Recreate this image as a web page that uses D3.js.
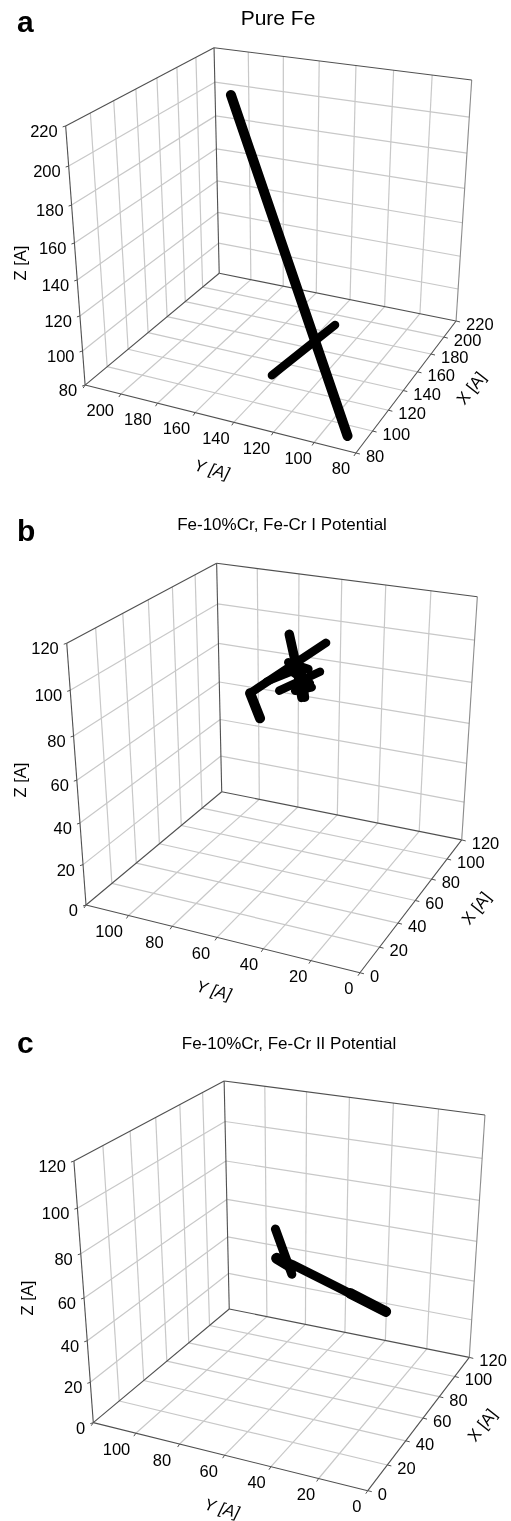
<!DOCTYPE html>
<html>
<head>
<meta charset="utf-8">
<script src="https://cdn.jsdelivr.net/npm/d3@7"></script>
<style>
body { margin: 0; background: #fff; }
svg { filter: blur(0.4px); }
text { font-family: "Liberation Sans", Arial, sans-serif; fill: #000; }
.grid { stroke: #c8c8c8; stroke-width: 1.2; }
.edge { stroke: #505050; stroke-width: 1.1; }
.edge.soft { stroke: #8c8c8c; }
.tick { stroke: #505050; stroke-width: 1; }
.track { fill: none; stroke: #000; stroke-linecap: round; stroke-linejoin: round; }
</style>
</head>
<body>
<div id="graph"></div>
<script>
var width = 511, height = 1521;

// panel a: pure Fe
var ticksA = [80, 100, 120, 140, 160, 180, 200, 220];
var yLabelsA = [80, 100, 120, 140, 160, 180, 200];
var tracksA = [
    [[190, 195.1, 205.1], [90, 88.1, 81]],
    [[125, 142, 81.2], [170, 128, 91.3]]
];
var widthsA = [10, 8.5];

// panel b: Fe-10%Cr, Fe-Cr I
var ticksB = [0, 20, 40, 60, 80, 100, 120];
var yLabelsB = [0, 20, 40, 60, 80, 100];
var tracksB = [
    [[70, 45.5, 108.4], [50, 69.3, 88.9]],
    [[50, 69.3, 88.9], [50, 65, 78.2]],
    [[60, 56.9, 113.7], [60, 51, 87.5]],
    [[65, 45.8, 97.1], [55, 58.9, 90]],
    [[60, 57.3, 101.2], [60, 48.6, 99.6]],
    [[60, 54.3, 88.9], [60, 47.1, 91.7]],
    [[60, 53.6, 98.6], [60, 51.5, 86.1]],
    [[60, 51.5, 99], [60, 50, 86.5]],
    [[60, 56.6, 97.8], [60, 47.9, 93.3]],
    [[60, 66.7, 91], [60, 53.6, 98.6]]
];
var widthsB = [8.5, 10, 9.5, 8.5, 8.5, 8.5, 8.5, 8.5, 8.5, 8];

// panel c: Fe-10%Cr, Fe-Cr II
var ticksC = [0, 20, 40, 60, 80, 100, 120];
var yLabelsC = [0, 20, 40, 60, 80, 100];
var tracksC = [
    [[60, 66.4, 77.3], [60, 59.1, 57.3]],
    [[60, 65.9, 63.6], [60, 58.4, 61.9], [60, 40.7, 55.9], [60, 17.7, 48]],
    [[60, 33.3, 53.5], [60, 17.7, 48]],
    [[60, 65.9, 63.6], [60, 59, 60.5]]
];
var widthsC = [9, 9, 10.5, 11];

// where the box corners sit on the page
var panels = [
    {letter: "a", title: "Pure Fe", titleSize: 21, titleX: 278, titleY: 25, letterY: 32,
     ticks: ticksA, yLabels: yLabelsA, tracks: tracksA, widths: widthsA, yDx: [-15, -6.5],
     A: [356, 453], FL: [85, 385], BR: [456, 321], B: [219.3, 273.3], TFL: [65.7, 126], TB: [214, 47.7], TBR: [471.7, 80],
     zTitle: [20, 263], yTitle: [212, 469], xTitle: [471, 388]},
    {letter: "b", title: "Fe-10%Cr, Fe-Cr I Potential", titleSize: 17, titleX: 282, titleY: 530, letterY: 541,
     ticks: ticksB, yLabels: yLabelsB, tracks: tracksB, widths: widthsB, yDx: [-11, -10],
     A: [360, 972.7], FL: [86, 905], BR: [461.7, 840], B: [221.7, 791.7], TFL: [66.7, 643.3], TB: [216.7, 563.3], TBR: [477.3, 596.7],
     zTitle: [20, 780], yTitle: [214, 990], xTitle: [476, 908]},
    {letter: "c", title: "Fe-10%Cr, Fe-Cr II Potential", titleSize: 17, titleX: 289, titleY: 1049, letterY: 1053,
     ticks: ticksC, yLabels: yLabelsC, tracks: tracksC, widths: widthsC, yDx: [-11, -10],
     A: [367.7, 1490.7], FL: [93.3, 1422.7], BR: [469.3, 1357.3], B: [229.3, 1309], TFL: [74, 1161], TB: [224, 1081], TBR: [485, 1115],
     zTitle: [27, 1298], yTitle: [222, 1508], xTitle: [482, 1425]}
];

var svg = d3.select("div#graph")
    .append("svg")
    .attr("width", width)
    .attr("height", height)
    .style("display", "block");

// least squares camera from the seven visible box corners
var fitCamera = function(f) {
    var pts = [[0, 0, 0, f.A], [0, 1, 0, f.FL], [1, 0, 0, f.BR], [1, 1, 0, f.B], [0, 1, 1, f.TFL], [1, 1, 1, f.TB], [1, 0, 1, f.TBR]];
    var rows = [], rhs = [];
    pts.forEach(function(p) {
        var sx = p[3][0] / 500, sy = p[3][1] / 500;
        rows.push([p[0], p[1], p[2], 1, 0, 0, 0, 0, -sx * p[0], -sx * p[1], -sx * p[2]]);
        rhs.push(sx);
        rows.push([0, 0, 0, 0, p[0], p[1], p[2], 1, -sy * p[0], -sy * p[1], -sy * p[2]]);
        rhs.push(sy);
    });
    var n = 11, M = [];
    for (var i = 0; i < n; i++) {
        M.push([]);
        for (var j = 0; j <= n; j++) {
            M[i].push(d3.sum(rows, function(r, k) { return r[i] * (j < n ? r[j] : rhs[k]); }));
        }
    }
    for (var c = 0; c < n; c++) {
        var best = c;
        for (var r = c + 1; r < n; r++) {
            if (Math.abs(M[r][c]) > Math.abs(M[best][c])) best = r;
        }
        var t = M[c]; M[c] = M[best]; M[best] = t;
        for (var r2 = 0; r2 < n; r2++) {
            if (r2 == c) continue;
            var m = M[r2][c] / M[c][c];
            for (var j2 = c; j2 <= n; j2++) M[r2][j2] -= m * M[c][j2];
        }
    }
    var P = M.map(function(row, i) { return row[n] / row[i]; });
    for (var q = 0; q < 8; q++) P[q] *= 500;
    return function(u, v, w) {
        var h = P[8] * u + P[9] * v + P[10] * w + 1;
        return [(P[0] * u + P[1] * v + P[2] * w + P[3]) / h, (P[4] * u + P[5] * v + P[6] * w + P[7]) / h];
    };
};

panels.forEach(function(p) {
    var g = svg.append("g");
    var project = fitCamera(p);
    var domain = d3.extent(p.ticks);
    var scale = d3.scaleLinear().domain(domain).range([0, 1]);

    var segment = function(a, b, cls) {
        var s = project(a[0], a[1], a[2]), e = project(b[0], b[1], b[2]);
        g.append("line").attr("class", cls)
            .attr("x1", s[0]).attr("y1", s[1])
            .attr("x2", e[0]).attr("y2", e[1]);
    };

    // grid on the floor and the two walls
    p.ticks.slice(1, -1).forEach(function(d) {
        var t = scale(d);
        segment([t, 0, 0], [t, 1, 0], "grid");
        segment([0, t, 0], [1, t, 0], "grid");
        segment([1, t, 0], [1, t, 1], "grid");
        segment([t, 1, 0], [t, 1, 1], "grid");
        segment([1, 0, t], [1, 1, t], "grid");
        segment([0, 1, t], [1, 1, t], "grid");
    });

    // box outline
    segment([0, 0, 0], [0, 1, 0], "edge");
    segment([0, 0, 0], [1, 0, 0], "edge");
    segment([1, 0, 0], [1, 1, 0], "edge");
    segment([0, 1, 0], [1, 1, 0], "edge");
    segment([0, 1, 0], [0, 1, 1], "edge");
    segment([1, 1, 0], [1, 1, 1], "edge");
    segment([1, 0, 0], [1, 0, 1], "edge soft");
    segment([0, 1, 1], [1, 1, 1], "edge");
    segment([1, 0, 1], [1, 1, 1], "edge");

    var tickMark = function(pos, dx, dy) {
        g.append("line").attr("class", "tick")
            .attr("x1", pos[0]).attr("y1", pos[1])
            .attr("x2", pos[0] + dx).attr("y2", pos[1] + dy);
    };

    // Z axis labels
    p.ticks.forEach(function(d) {
        var pos = project(0, 1, scale(d));
        tickMark(pos, -3, 1);
        g.append("text").attr("x", pos[0] - 8).attr("y", pos[1] + 11)
            .attr("text-anchor", "end").attr("font-size", 16.5).text(d);
    });

    // X axis labels
    p.ticks.forEach(function(d) {
        var pos = project(scale(d), 0, 0);
        tickMark(pos, 4, 1);
        g.append("text").attr("x", pos[0] + 10).attr("y", pos[1] + 9)
            .attr("text-anchor", "start").attr("font-size", 16.5).text(d);
    });

    // Y axis labels
    p.ticks.forEach(function(d) { tickMark(project(0, scale(d), 0), -2, 3); });
    p.yLabels.forEach(function(d) {
        var pos = project(0, scale(d), 0);
        g.append("text").attr("x", pos[0] + p.yDx[0] + p.yDx[1] * scale(d)).attr("y", pos[1] + 21.5)
            .attr("text-anchor", "middle").attr("font-size", 16.5).text(d);
    });

    // tracks
    var line = d3.line()
        .x(function(d) { return project(scale(d[0]), scale(d[1]), scale(d[2]))[0]; })
        .y(function(d) { return project(scale(d[0]), scale(d[1]), scale(d[2]))[1]; });
    g.selectAll("path.track")
        .data(p.tracks)
        .enter()
        .append("path")
        .attr("class", "track")
        .attr("stroke-width", function(d, i) { return p.widths[i]; })
        .attr("d", line);

    // axis names
    var axisTitle = function(pos, angle, label, italic) {
        g.append("text")
            .attr("transform", "translate(" + pos[0] + "," + pos[1] + ") rotate(" + angle + ")")
            .attr("text-anchor", "middle").attr("dy", "0.35em")
            .attr("font-size", 16.5)
            .attr("font-style", italic ? "italic" : "normal")
            .text(label);
    };
    axisTitle(p.zTitle, -90, "Z [A]", false);
    axisTitle(p.yTitle, 15, "Y [A]", true);
    axisTitle(p.xTitle, -52, "X [A]", false);

    // titles
    g.append("text").attr("x", p.titleX).attr("y", p.titleY)
        .attr("text-anchor", "middle").attr("font-size", p.titleSize).text(p.title);
    g.append("text").attr("x", 17).attr("y", p.letterY)
        .attr("font-size", 30).attr("font-weight", "bold").text(p.letter);
});
</script>
</body>
</html>
